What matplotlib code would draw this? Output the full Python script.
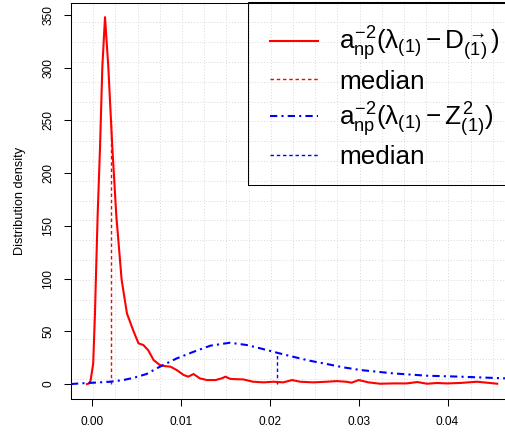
import numpy as np
import matplotlib
matplotlib.use("Agg")
import matplotlib.pyplot as plt
from matplotlib.lines import Line2D
from matplotlib.patches import Rectangle
from matplotlib.ticker import FixedLocator

plt.rcParams['font.family'] = ['Liberation Sans', 'DejaVu Sans']
plt.rcParams['mathtext.fontset'] = 'custom'
plt.rcParams['mathtext.rm'] = 'Liberation Sans'
plt.rcParams['mathtext.it'] = 'Liberation Sans'
plt.rcParams['mathtext.bf'] = 'Liberation Sans:bold'

# density of a^-2 (lambda - D) : values
red_x = [-0.0006, -0.0004, -0.0002, 0.0001, 0.0003, 0.0004, 0.0006, 0.00087,
         0.00113, 0.00143, 0.0018, 0.00225, 0.0027, 0.0033, 0.0039, 0.0046,
         0.0052, 0.00575, 0.0063, 0.0069, 0.0076, 0.0082, 0.0088, 0.0095,
         0.0103, 0.0108, 0.0114, 0.0121, 0.0129, 0.0139, 0.0146, 0.0150,
         0.0155, 0.0159, 0.0170, 0.0181, 0.0193, 0.0204, 0.0215, 0.0225,
         0.0234, 0.0249, 0.0264, 0.0275, 0.0286, 0.0292, 0.0300, 0.0311,
         0.0324, 0.0339, 0.0354, 0.0366, 0.0377, 0.0388, 0.0399, 0.0414,
         0.0433, 0.0448, 0.0456]
red_y = [0, 0.5, 3, 19.6, 67, 99, 160, 225,
         301, 348, 301, 225, 160, 99, 67, 51,
         38.6, 37, 32, 22.8, 18, 17, 16.5, 13.3,
         8.5, 7, 9.5, 5.4, 3.8, 3.8, 5.5, 7,
         5, 4.7, 4.4, 2.2, 1.6, 2.2, 1.6, 3.8,
         2.2, 1.6, 2.2, 2.8, 2.2, 1.3, 3.8, 1.6,
         0.3, 0.6, 0.6, 1.9, 0.3, 1.0, 0.6, 1.0,
         2.2, 1.0, 0.3]
red_median = 0.0021

# density of a^-2 (lambda - Z^2)
blue_x = [-0.0024, -0.0014, 0.0, 0.002, 0.0035, 0.0047, 0.0061, 0.0076,
          0.0095, 0.0114, 0.0133, 0.0155, 0.0174, 0.0189, 0.0208, 0.0226,
          0.0245, 0.0264, 0.0283, 0.0302, 0.0339, 0.0377, 0.0414, 0.0465, 0.049]
blue_y = [0, 0.6, 1.2, 2.2, 3.8, 6, 9.5, 16.4,
          24.3, 30.6, 36.4, 39.2, 37, 33.9, 29.7, 25.9,
          22.1, 19, 15.8, 13.3, 10.1, 7.9, 7, 5.4, 4.8]
blue_median = 0.0208

xticks = [0.00, 0.01, 0.02, 0.03, 0.04]
yticks = [0, 50, 100, 150, 200, 250, 300, 350]
xlim = (-0.0024, 0.0476)
ylim = (-13.9, 361.9)

fig = plt.figure(figsize=(5.06, 4.33), dpi=100)
ax = fig.add_axes([71 / 506, 34.3 / 433, 444 / 506, 396.2 / 433])

dotdash = (0, (3.5, 2, 1, 2))
ax.plot(red_x, red_y, color='red', lw=1.5, zorder=3)
ax.plot(blue_x, blue_y, color='blue', lw=1.5, linestyle=dotdash, zorder=3)
ax.vlines(red_median, 0, np.interp(red_median, red_x, red_y), color='red',
          lw=1.0, linestyles=(0, (2.5, 2)), zorder=2)
ax.vlines(blue_median, 0, np.interp(blue_median, blue_x, blue_y), color='blue',
          lw=1.0, linestyles=(0, (2.5, 2)), zorder=2)

ax.set_xlim(xlim)
ax.set_ylim(ylim)
ax.set_xticks(xticks)
ax.set_xticklabels(['%.2f' % v for v in xticks])
ax.set_yticks(yticks)
ax.set_yticklabels([str(v) for v in yticks], rotation=90, va='center')
ax.tick_params(direction='out', length=5, width=0.75, labelsize=8.6, pad=7.5)
ax.tick_params(axis='y', pad=7)

# 20 x 20 grid like R grid(20, 20)
ax.xaxis.set_minor_locator(FixedLocator(np.linspace(xlim[0], xlim[1], 21)[1:-1]))
ax.yaxis.set_minor_locator(FixedLocator(np.linspace(ylim[0], ylim[1], 21)[1:-1]))
ax.tick_params(which='minor', length=0)
ax.grid(which='minor', color='#d9d9d9', linestyle=(0, (1, 2)), lw=0.7)
ax.set_axisbelow(True)

for s in ax.spines.values():
    s.set_linewidth(0.75)

ax.set_ylabel('Distribution density', fontsize=9.2, labelpad=12)

handles = [
    Line2D([], [], color='red', lw=1.5),
    Line2D([], [], color='red', lw=1.0, linestyle=(0, (2.5, 2))),
    Line2D([], [], color='blue', lw=1.5, linestyle=dotdash),
    Line2D([], [], color='blue', lw=1.0, linestyle=(0, (2.5, 2))),
]
labels = [
    r'$a_{np}^{-2}(\lambda_{(1)} - D_{(1)}^{\rightarrow})$',
    'median',
    r'$a_{np}^{-2}(\lambda_{(1)} - Z_{(1)}^{2})$',
    'median',
]
leg = fig.legend(handles, labels, loc='upper left',
                 bbox_to_anchor=(248 / 506, 1 - 2.45 / 433),
                 borderaxespad=0, fontsize=18.8, handlelength=1.85,
                 handletextpad=0.78, borderpad=0.85, labelspacing=0.24,
                 frameon=False)
# legend box, its right side runs off the figure like the plot box
fig.add_artist(Rectangle((248 / 506, 1 - 185 / 433), 300 / 506, 182.55 / 433,
                         transform=fig.transFigure, fill=False,
                         edgecolor='black', lw=0.75))

fig.savefig('out.png', dpi=100)
